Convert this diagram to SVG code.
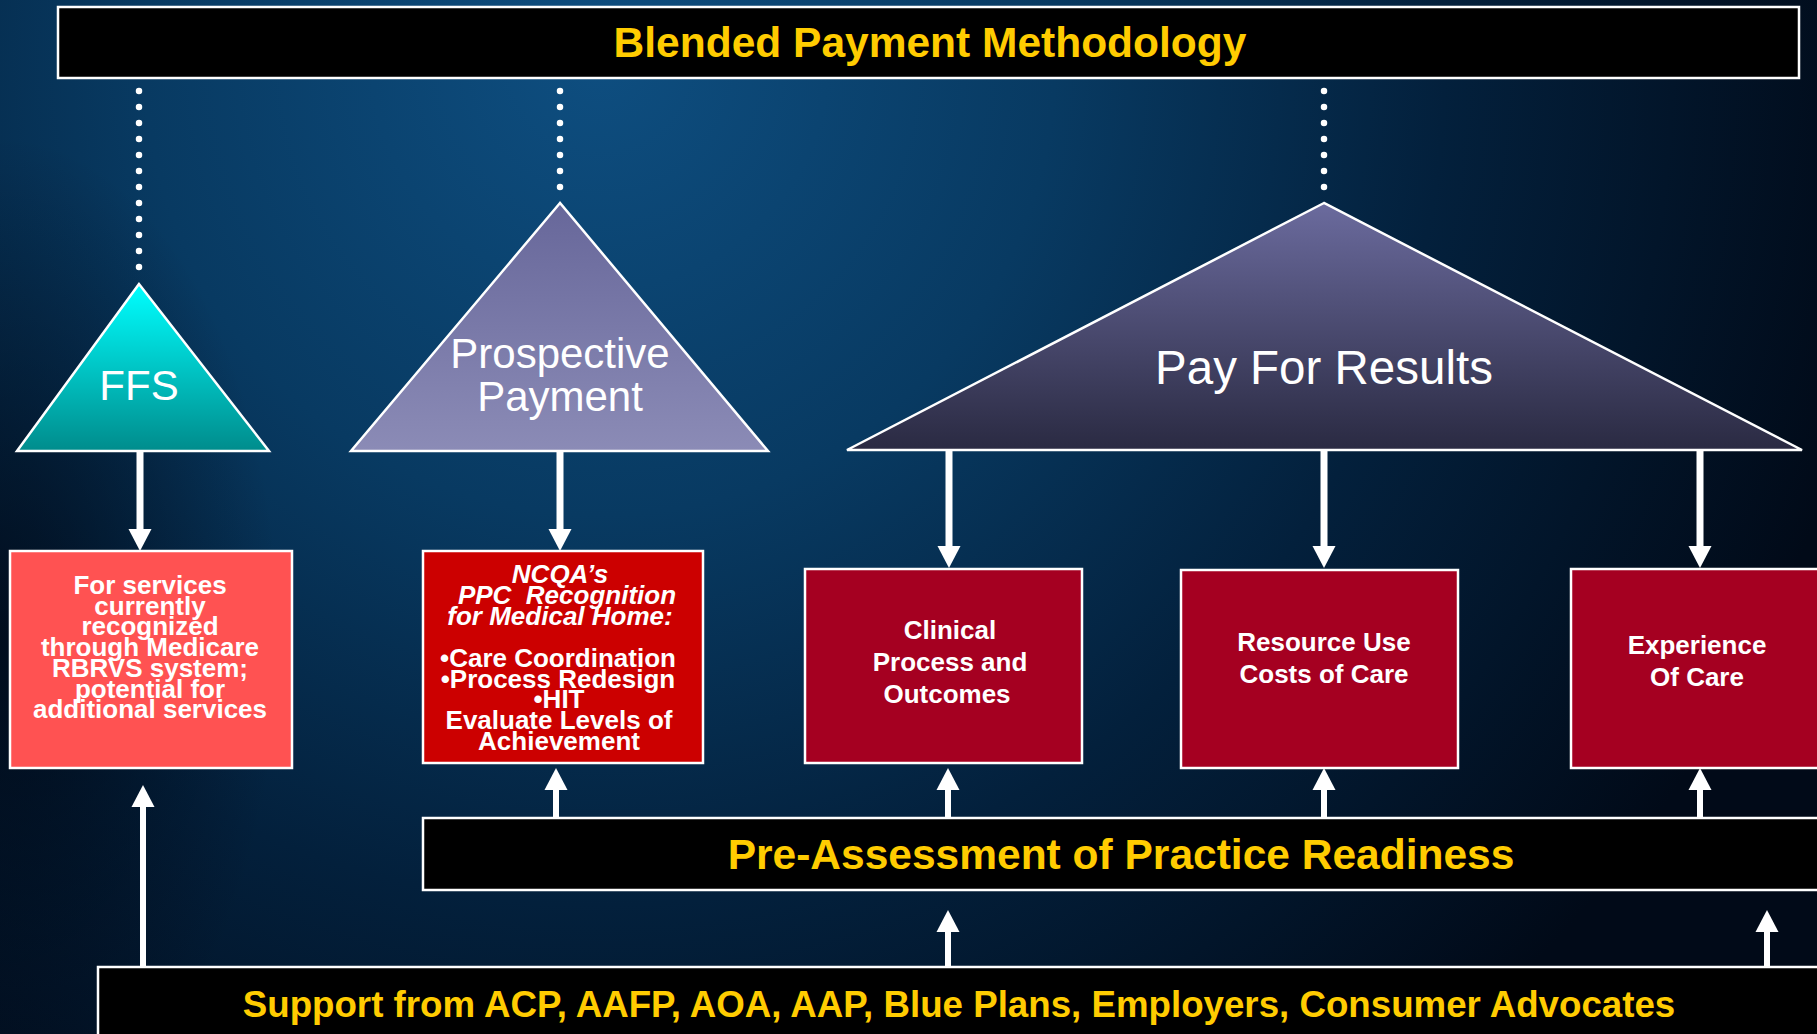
<svg xmlns="http://www.w3.org/2000/svg" width="1817" height="1034" viewBox="0 0 1817 1034">
  <defs>
    <radialGradient id="bg" gradientUnits="userSpaceOnUse" cx="600" cy="60" r="1300">
      <stop offset="0" stop-color="#0e4e80"/>
      <stop offset="0.35" stop-color="#083a62"/>
      <stop offset="0.65" stop-color="#03203c"/>
      <stop offset="1" stop-color="#010a18"/>
    </radialGradient>
    <radialGradient id="vig" gradientUnits="userSpaceOnUse" cx="0" cy="640" r="280" gradientTransform="translate(0,640) scale(1,1.8) translate(0,-640)">
      <stop offset="0" stop-color="#000510" stop-opacity="0.7"/>
      <stop offset="1" stop-color="#000510" stop-opacity="0"/>
    </radialGradient>
    <linearGradient id="gFFS" x1="0" y1="0" x2="0" y2="1">
      <stop offset="0" stop-color="#00ffff"/>
      <stop offset="1" stop-color="#008c8c"/>
    </linearGradient>
    <linearGradient id="gPro" x1="0" y1="0" x2="0" y2="1">
      <stop offset="0" stop-color="#67679a"/>
      <stop offset="1" stop-color="#8b8bb6"/>
    </linearGradient>
    <linearGradient id="gPay" x1="0" y1="0" x2="0" y2="1">
      <stop offset="0" stop-color="#6b6b9e"/>
      <stop offset="1" stop-color="#2a2a42"/>
    </linearGradient>
    <marker id="ah" markerUnits="userSpaceOnUse" markerWidth="23" markerHeight="24" refX="0" refY="11.5" orient="auto" overflow="visible">
      <path d="M0,0 L22,11.5 L0,23 Z" fill="#ffffff"/>
    </marker>
    <style>
      .bar { fill: #000000; stroke: #ffffff; stroke-width: 2.5; }
      .tri { stroke: #ffffff; stroke-width: 2.5; stroke-linejoin: miter; }
      .box { stroke: #ffffff; stroke-width: 2.5; }
      .ytxt { fill: #ffcc00; font-family: "Liberation Sans", Arial, sans-serif; font-weight: bold; text-anchor: middle; }
      .ttxt { fill: #ffffff; font-family: "Liberation Sans", Arial, sans-serif; text-anchor: middle; }
      .btxt { fill: #ffffff; font-family: "Liberation Sans", Arial, sans-serif; font-weight: bold; font-size: 26px; text-anchor: middle; }
      .it { font-style: italic; }
      .dots { stroke: #ffffff; stroke-width: 6.5; stroke-linecap: round; stroke-dasharray: 0 16; fill: none; }
      .arr { stroke: #ffffff; stroke-width: 7; fill: none; marker-end: url(#ah); }
      .arr2 { stroke: #ffffff; stroke-width: 6; fill: none; marker-end: url(#ah); }
    </style>
  </defs>

  <rect x="0" y="0" width="1817" height="1034" fill="url(#bg)"/>
  <rect x="0" y="0" width="400" height="1034" fill="url(#vig)"/>

  <g id="connectors">
    <line class="dots" x1="139" y1="91" x2="139" y2="283"/>
    <line class="dots" x1="560" y1="91" x2="560" y2="203"/>
    <line class="dots" x1="1324" y1="91" x2="1324" y2="203"/>

    <line class="arr" x1="140" y1="451" x2="140" y2="529"/>
    <line class="arr" x1="560" y1="451" x2="560" y2="529"/>
    <line class="arr" x1="949" y1="451" x2="949" y2="546"/>
    <line class="arr" x1="1324" y1="451" x2="1324" y2="546"/>
    <line class="arr" x1="1700" y1="451" x2="1700" y2="546"/>

    <line class="arr2" x1="556" y1="817" x2="556" y2="790"/>
    <line class="arr2" x1="948" y1="817" x2="948" y2="790"/>
    <line class="arr2" x1="1324" y1="817" x2="1324" y2="790"/>
    <line class="arr2" x1="1700" y1="817" x2="1700" y2="790"/>

    <line class="arr2" x1="143" y1="967" x2="143" y2="807"/>
    <line class="arr2" x1="948" y1="967" x2="948" y2="932"/>
    <line class="arr2" x1="1767" y1="967" x2="1767" y2="932"/>
  </g>

  <g id="title">
    <rect class="bar" x="58" y="7" width="1741" height="71"/>
    <text class="ytxt" x="930" y="57" font-size="42.5">Blended Payment Methodology</text>
  </g>

  <g id="ffs">
    <polygon class="tri" points="139,284 17,451 269,451" fill="url(#gFFS)"/>
    <text class="ttxt" x="139" y="400" font-size="42">FFS</text>
  </g>

  <g id="prospective">
    <polygon class="tri" points="560,203 351,451 768,451" fill="url(#gPro)"/>
    <text class="ttxt" x="560" y="368" font-size="42">Prospective</text>
    <text class="ttxt" x="560" y="411" font-size="42">Payment</text>
  </g>

  <g id="payforresults">
    <polygon class="tri" points="1324,203 847,450 1802,450" fill="url(#gPay)"/>
    <text class="ttxt" x="1324" y="384" font-size="47.5">Pay For Results</text>
  </g>

  <g id="ffsbox">
    <rect class="box" x="10" y="551" width="282" height="217" fill="#ff5252"/>
    <text class="btxt" x="150" y="594">For services</text>
    <text class="btxt" x="150" y="614.7">currently</text>
    <text class="btxt" x="150" y="635.4">recognized</text>
    <text class="btxt" x="150" y="656.1">through Medicare</text>
    <text class="btxt" x="150" y="676.8">RBRVS system;</text>
    <text class="btxt" x="150" y="697.5">potential for</text>
    <text class="btxt" x="150" y="718.2">additional services</text>
  </g>

  <g id="ncqabox">
    <rect class="box" x="423" y="551" width="280" height="212" fill="#cc0000"/>
    <text class="btxt it" x="560" y="583">NCQA’s</text>
    <text class="btxt it" x="567" y="604">PPC&#160; Recognition</text>
    <text class="btxt it" x="560" y="625">for Medical Home:</text>
    <text class="btxt" x="558" y="667">•Care Coordination</text>
    <text class="btxt" x="558" y="687.5">•Process Redesign</text>
    <text class="btxt" x="559" y="708">•HIT</text>
    <text class="btxt" x="559" y="729">Evaluate Levels of</text>
    <text class="btxt" x="559" y="750">Achievement</text>
  </g>

  <g id="clinical">
    <rect class="box" x="805" y="569" width="277" height="194" fill="#a50021"/>
    <text class="btxt" x="950" y="639">Clinical</text>
    <text class="btxt" x="950" y="671">Process and</text>
    <text class="btxt" x="947" y="703">Outcomes</text>
  </g>

  <g id="resource">
    <rect class="box" x="1181" y="570" width="277" height="198" fill="#a50021"/>
    <text class="btxt" x="1324" y="651">Resource Use</text>
    <text class="btxt" x="1324" y="683">Costs of Care</text>
  </g>

  <g id="experience">
    <rect class="box" x="1571" y="569" width="277" height="199" fill="#a50021"/>
    <text class="btxt" x="1697" y="654">Experience</text>
    <text class="btxt" x="1697" y="686">Of Care</text>
  </g>

  <g id="preassessment">
    <rect class="bar" x="423" y="818" width="1420" height="72"/>
    <text class="ytxt" x="1121" y="869" font-size="42.5">Pre-Assessment of Practice Readiness</text>
  </g>

  <g id="support">
    <rect class="bar" x="98" y="967" width="1745" height="90"/>
    <text class="ytxt" x="959" y="1017" font-size="36.7">Support from ACP, AAFP, AOA, AAP, Blue Plans, Employers, Consumer Advocates</text>
  </g>
</svg>
